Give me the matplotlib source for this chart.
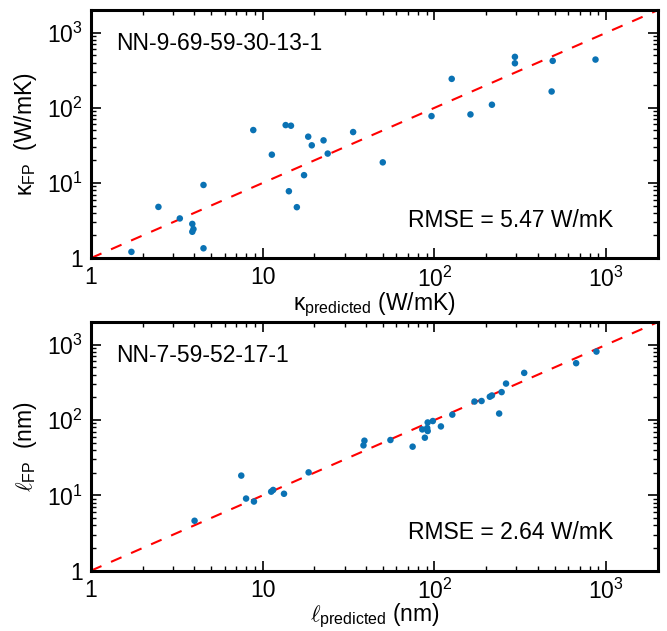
import matplotlib
matplotlib.use("Agg")
import matplotlib.pyplot as plt
import numpy as np

plt.rcParams['font.family'] = ['Liberation Sans', 'DejaVu Sans']
plt.rcParams['mathtext.fontset'] = 'custom'
plt.rcParams['mathtext.rm'] = 'Liberation Sans'
plt.rcParams['mathtext.it'] = 'DejaVu Serif:italic'

# painel superior: condutividade termica
kappa_pred = [1.72, 2.47, 3.29, 3.89, 3.95, 3.89, 4.52, 4.52, 8.81, 11.3,
              13.6, 14.6, 14.2, 15.8, 17.4, 18.4, 19.3, 22.6, 23.9, 33.6,
              50.0, 96.1, 126, 162, 216, 294, 294, 488, 481, 866]
kappa_fp = [1.21, 4.8, 3.37, 2.85, 2.43, 2.24, 9.4, 1.35, 50.6, 23.8,
            58.9, 57.8, 7.76, 4.76, 12.7, 41.3, 31.7, 36.9, 24.6, 47.6,
            18.8, 77.6, 243, 81.7, 110, 477, 392, 422, 165, 439]

# painel inferior: livre caminho medio
ell_pred = [4.01, 7.5, 8.0, 8.89, 11.2, 11.5, 13.3, 18.5, 38.6, 39.1,
            55.4, 74.6, 84.9, 87.9, 90.7, 91.3, 91.3, 97.8, 109, 127,
            171, 188, 210, 216, 238, 246, 261, 333, 668, 877]
ell_fp = [4.6, 18.3, 9.07, 8.28, 11.2, 11.8, 10.5, 20.2, 46.1, 53.2,
          54.3, 44.3, 75.1, 58.3, 78.4, 71.5, 92.9, 97, 82.3, 118,
          176, 179, 204, 212, 122, 235, 305, 423, 569, 811]

ident = [1, 2000]
tick_vals = [1, 10, 100, 1000]
xtick_labels = ['1', '10', r'$\mathregular{10^2}$', r'$\mathregular{10^3}$']
ytick_labels = ['1', r'$\mathregular{10^1}$', r'$\mathregular{10^2}$', r'$\mathregular{10^3}$']

fig = plt.figure(figsize=(6.67, 6.31), dpi=100)
ax1 = fig.add_axes([0.1364, 0.591, 0.850, 0.393])
ax2 = fig.add_axes([0.1364, 0.0956, 0.850, 0.394])

paineis = [
    (ax1, kappa_pred, kappa_fp, 'NN-9-69-59-30-13-1', 'RMSE = 5.47 W/mK',
     r'$\mathregular{κ_{predicted}}$ (W/mK)', r'$\mathregular{κ_{FP}}$  (W/mK)', -1),
    (ax2, ell_pred, ell_fp, 'NN-7-59-52-17-1', 'RMSE = 2.64 W/mK',
     r'$\ell_{\mathregular{predicted}}$ (nm)', r'$\ell_{\mathregular{FP}}$  (nm)', -2),
]

for ax, xs, ys, nome, rmse, xl, yl, lp in paineis:
    ax.plot(ident, ident, color='red', lw=1.5, dashes=(5.5, 5))
    ax.scatter(xs, ys, s=22, color='#0a72b4', edgecolors='none', zorder=3)
    ax.set_xscale('log')
    ax.set_yscale('log')
    ax.set_xlim(1, 2000)
    ax.set_ylim(1, 2000)
    ax.set_xticks(tick_vals)
    ax.set_xticklabels(xtick_labels)
    ax.set_yticks(tick_vals)
    ax.set_yticklabels(ytick_labels)
    ax.tick_params(which='both', direction='in', top=True, right=True, labelsize=16.5)
    ax.tick_params(which='major', length=7, width=1.2, pad=6)
    ax.tick_params(which='minor', length=3.5, width=1)
    for s in ax.spines.values():
        s.set_linewidth(2.2)
    ax.text(0.045, 0.865, nome, transform=ax.transAxes, fontsize=16.5, va='center')
    ax.text(0.56, 0.153, rmse, transform=ax.transAxes, fontsize=16.5, va='center')
    ax.set_xlabel(xl, fontsize=16.5, labelpad=lp)
    ax.set_ylabel(yl, fontsize=16.5, labelpad=6)

plt.savefig('out.png', dpi=100)
